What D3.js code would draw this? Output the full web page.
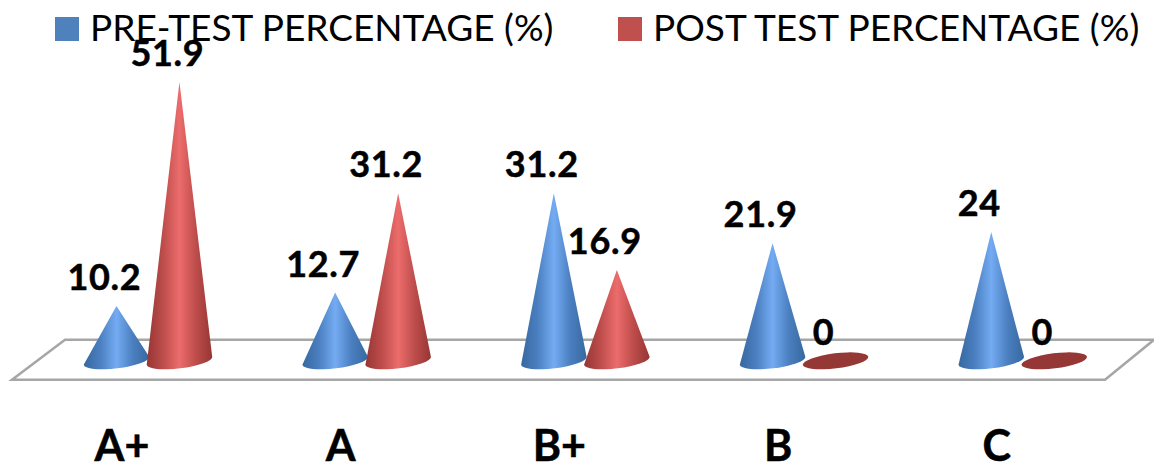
<!DOCTYPE html>
<html>
<head>
<meta charset="utf-8">
<script src="https://cdn.jsdelivr.net/npm/d3@7"></script>
<style>
  html, body { margin: 0; padding: 0; background: #fff; }
  svg { display: block; }
  text { font-family: Lato, "Open Sans", sans-serif; fill: #000; }
  .value-label { font-weight: 700; font-size: 36px; letter-spacing: 0.7px; text-anchor: middle; stroke: #000; stroke-width: 0.5px; }
  .legend-label { font-size: 37px; }
  .x-axis text { font-weight: 700; font-size: 43px; stroke: #000; stroke-width: 0.5px; }
</style>
</head>
<body>
<div id="chart"></div>
<script>
var categories = ["A+", "A", "B+", "B", "C"];
var seriesNames = ["PRE-TEST PERCENTAGE (%)", "POST TEST PERCENTAGE (%)"];
var preTest = [10.2, 12.7, 31.2, 21.9, 24];
var postTest = [51.9, 31.2, 16.9, 0, 0];

var width = 1154, height = 471;

var svg = d3.select("#chart").append("svg")
    .attr("width", width)
    .attr("height", height);

// Scales: one band per grade, two cones inside each band
var x = d3.scaleBand()
    .domain(categories)
    .range([38.6, 38.6 + 218.7 * categories.length]);

var xSeries = d3.scaleBand()
    .domain(seriesNames)
    .range([x.bandwidth() / 2 - 63, x.bandwidth() / 2 + 63]);

var y = d3.scaleLinear()
    .domain([0, 51.9])
    .range([360.8, 82]);

var rx = 33, ry = 7.5, tilt = -7;

// Cone gradients
var defs = svg.append("defs");
function addGradient(id, edge, quarter, mid) {
    var g = defs.append("linearGradient").attr("id", id);
    g.append("stop").attr("offset", "0%").attr("stop-color", edge);
    g.append("stop").attr("offset", "25%").attr("stop-color", quarter);
    g.append("stop").attr("offset", "50%").attr("stop-color", mid);
    g.append("stop").attr("offset", "75%").attr("stop-color", quarter);
    g.append("stop").attr("offset", "100%").attr("stop-color", edge);
}
addGradient("cone-0", "#37689f", "#4a7fc0", "#74abf2");
addGradient("cone-1", "#963634", "#bd4d4b", "#ec6c6c");

// Floor of the 3D plot
var floorBack = y(0) - 21, floorFront = y(0) + 19;
svg.append("path")
    .attr("d", "M12," + floorFront + "L65," + floorBack + "L1154," + floorBack + "L1105," + floorFront + "Z")
    .attr("fill", "#fff")
    .attr("stroke", "#a6a6a6")
    .attr("stroke-width", 2.5);

var rows = [];
categories.forEach(function(c, i) {
    rows.push({ category: c, series: 0, value: preTest[i] });
    rows.push({ category: c, series: 1, value: postTest[i] });
});
// red cones sit in front of the blue ones
rows.sort(function(a, b) { return a.series - b.series; });

function cx(d) {
    return x(d.category) + xSeries(seriesNames[d.series]) + xSeries.bandwidth() / 2;
}

function conePath(d) {
    var c = cx(d), b = y(0);
    var dx = rx * Math.cos(tilt * Math.PI / 180), dy = rx * Math.sin(tilt * Math.PI / 180);
    return "M" + c + "," + y(d.value) +
        "L" + (c + dx) + "," + (b + dy) +
        "A" + rx + "," + ry + " " + tilt + " 0 1 " + (c - dx) + "," + (b - dy) + "Z";
}

svg.selectAll("path.cone")
    .data(rows.filter(function(d) { return d.value > 0; }))
    .enter().append("path")
    .attr("class", "cone")
    .attr("d", conePath)
    .attr("fill", function(d) { return "url(#cone-" + d.series + ")"; });

// Zero values collapse to a flat disc
svg.selectAll("ellipse.disc")
    .data(rows.filter(function(d) { return d.value === 0; }))
    .enter().append("ellipse")
    .attr("class", "disc")
    .attr("cx", cx)
    .attr("cy", y(0))
    .attr("rx", rx)
    .attr("ry", ry)
    .attr("transform", function(d) { return "rotate(" + tilt + " " + cx(d) + " " + y(0) + ")"; })
    .attr("fill", "#953735");

// Category axis, labels only
var xAxis = d3.axisBottom(x).tickSize(0).tickPadding(0);
var axisG = svg.append("g")
    .attr("class", "x-axis")
    .attr("transform", "translate(-26,461)")
    .call(xAxis);
axisG.select(".domain").remove();
axisG.selectAll("text").attr("dy", 0);
axisG.attr("font-family", null).attr("font-size", null);

// Legend
var legendColors = ["#4f81bd", "#c0504d"];
var legendX = [55, 618];
var legendTextX = [35, 35];
var legend = svg.selectAll("g.legend")
    .data(seriesNames)
    .enter().append("g")
    .attr("class", "legend")
    .attr("transform", function(d, i) { return "translate(" + legendX[i] + ",17)"; });

legend.append("rect")
    .attr("width", 24)
    .attr("height", 24)
    .attr("fill", function(d, i) { return legendColors[i]; });

legend.append("text")
    .attr("class", "legend-label")
    .attr("x", function(d, i) { return legendTextX[i]; })
    .attr("y", 24)
    .text(function(d) { return d; });

// Value labels go last, the 51.9 label runs over the legend text
svg.selectAll("text.value-label")
    .data(rows)
    .enter().append("text")
    .attr("class", "value-label")
    .attr("x", function(d) { return cx(d) - 12; })
    .attr("y", function(d) { return y(d.value) - 16; })
    .text(function(d) { return d.value; });
</script>
</body>
</html>
